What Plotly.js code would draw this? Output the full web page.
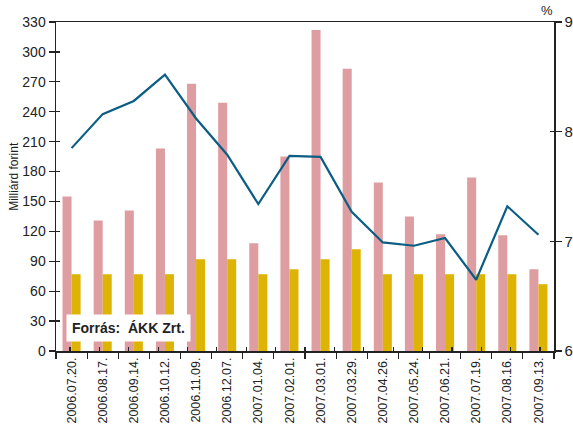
<!DOCTYPE html>
<html><head><meta charset="utf-8">
<script src="https://cdn.plot.ly/plotly-3.0.1.min.js"></script>
<style>body{margin:0;background:#fff}#c{width:573px;height:426px}</style>
</head><body><div id="c"></div>
<script>
const dates = ["2006.07.20.","2006.08.17.","2006.09.14.","2006.10.12.","2006.11.09.","2006.12.07.","2007.01.04.","2007.02.01.","2007.03.01.","2007.03.29.","2007.04.26.","2007.05.24.","2007.06.21.","2007.07.19.","2007.08.16.","2007.09.13."];
const pinkVals = [155,131,141,203,268,249,108,195,322,283,169,135,117,174,116,82];
const yellowVals = [77,77,77,77,92,92,77,82,92,102,77,77,77,77,77,67];
const lineVals = [7.85,8.16,8.28,8.52,8.12,7.79,7.34,7.78,7.77,7.27,6.99,6.96,7.03,6.65,7.32,7.06];
const leftTicks = [0,30,60,90,120,150,180,210,240,270,300,330];
const rightTicks = [6,7,8,9];
const font = "'Liberation Sans',Arial,sans-serif";

const data = [
  {type:"bar", x:dates, y:pinkVals, marker:{color:"#dd9da1"}, hoverinfo:"skip"},
  {type:"bar", x:dates, y:yellowVals, marker:{color:"#ddb304"}, hoverinfo:"skip"},
  {type:"scatter", mode:"lines", x:dates, y:lineVals, yaxis:"y2", line:{color:"#0b5d84", width:2.2}, hoverinfo:"skip"},
  {type:"scatter", mode:"markers", x:dates, y:lineVals, xaxis:"x2", yaxis:"y3", marker:{opacity:0}, hoverinfo:"skip"},
  {type:"scatter", mode:"markers", x:dates, y:lineVals, xaxis:"x2", yaxis:"y4", marker:{opacity:0}, hoverinfo:"skip"}
];
const tk = {ticklen:4, tickwidth:1.2, tickcolor:"#222", showgrid:false, zeroline:false, showticklabels:false, showline:false};
const layout = {
  width:573, height:426,
  margin:{l:56, r:19, t:22, b:75},
  paper_bgcolor:"#fff", plot_bgcolor:"#fff",
  showlegend:false,
  barmode:"group", bargap:0.42, bargroupgap:0,
  font:{family:font, color:"#222", size:14},
  xaxis:{type:"category", tickangle:-90, tickfont:{size:12.5, family:font}, ticks:"outside", ticklen:6, tickwidth:1.2, tickcolor:"#222",
         tickson:"boundaries", showline:true, linecolor:"#222", linewidth:1.5, mirror:true, showgrid:false, zeroline:false},
  xaxis2:Object.assign({type:"category", overlaying:"x", ticks:"inside", tickson:"boundaries", categoryorder:"array", categoryarray:dates}, tk),
  yaxis:{range:[0,330], tickvals:leftTicks, ticks:"outside", ticklen:6, tickwidth:1.2, tickcolor:"#222", showline:true, linecolor:"#222", linewidth:1.5,
         showgrid:false, zeroline:false, tickfont:{size:14, family:font}},
  yaxis2:{overlaying:"y", side:"right", range:[6,9], tickvals:rightTicks, ticks:"outside", ticklen:6, tickwidth:1.2, tickcolor:"#222",
          showline:true, linecolor:"#222", linewidth:1.5, showgrid:false, zeroline:false, tickfont:{size:15, family:font}},
  yaxis3:Object.assign({overlaying:"y", side:"left", range:[0,330], tickvals:leftTicks, ticks:"inside"}, tk),
  yaxis4:Object.assign({overlaying:"y", side:"right", range:[6,9], tickvals:rightTicks, ticks:"inside"}, tk),
  annotations:[
    {xref:"paper", yref:"paper", x:-0.086, y:0.53, xanchor:"center", yanchor:"middle", textangle:-90, text:"Milliárd forint", showarrow:false,
     font:{size:12, family:font, color:"#222"}},
    {xref:"paper", yref:"paper", x:0.02, y:0.07, xanchor:"left", yanchor:"middle", text:"<b>Forrás:  ÁKK Zrt.</b>", showarrow:false,
     font:{size:14, family:font, color:"#222"}, bgcolor:"#fff", borderpad:5},
    {xref:"paper", yref:"paper", x:0.985, y:1.005, xanchor:"center", yanchor:"bottom", text:"%", showarrow:false, font:{size:13, family:font}}
  ]
};
Plotly.newPlot("c", data, layout, {staticPlot:true});
</script></body></html>
